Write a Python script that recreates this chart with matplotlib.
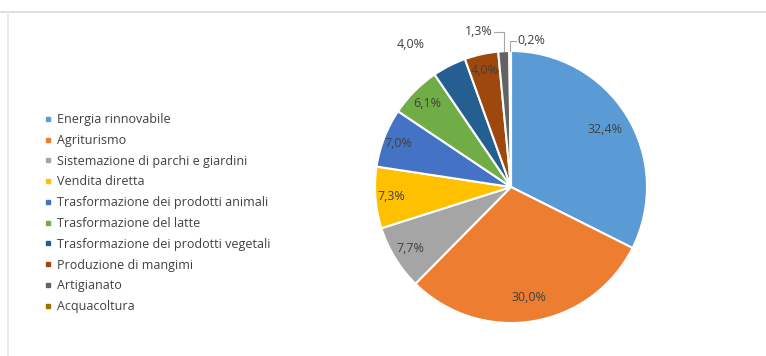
import matplotlib.pyplot as plt
from matplotlib.lines import Line2D
import numpy as np

categories = [
    "Energia rinnovabile",
    "Agriturismo",
    "Sistemazione di parchi e giardini",
    "Vendita diretta",
    "Trasformazione dei prodotti animali",
    "Trasformazione del latte",
    "Trasformazione dei prodotti vegetali",
    "Produzione di mangimi",
    "Artigianato",
    "Acquacoltura",
]
values = [32.4, 30.0, 7.7, 7.3, 7.0, 6.1, 4.0, 4.0, 1.3, 0.2]
colors = ["#5B9BD5", "#ED7D31", "#A5A5A5", "#FFC000", "#4472C4",
          "#70AD47", "#255E91", "#9E480E", "#636363", "#997300"]

plt.rcParams["font.family"] = ["Open Sans", "DejaVu Sans"]
txt_col = "#404040"
fs = 9

fig = plt.figure(figsize=(7.66, 3.56), dpi=100)

# faint chart border
fig.add_artist(Line2D([0.0, 1.0], [1 - 11.5 / 356] * 2, color="#d9d9d9", lw=1.2))
fig.add_artist(Line2D([7.5 / 766] * 2, [0, 1 - 11.5 / 356], color="#e6e6e6", lw=1.2))

cx, cy, r = 511, 187, 136
ax = fig.add_axes([(cx - r) / 766, (356 - cy - r) / 356, 2 * r / 766, 2 * r / 356])
wedges, _ = ax.pie(values, colors=colors, startangle=90, counterclock=False,
                   radius=1.0, wedgeprops=dict(edgecolor="white", linewidth=1.5))
ax.set_xlim(-1, 1)
ax.set_ylim(-1, 1)
ax.set_aspect("equal")
ax.axis("off")

# data labels: (distance, angle shift in degrees)
label_pos = [(0.81, 0), (0.82, 0), (0.87, 0), (0.885, 0), (0.89, 0),
             (0.87, 0), (1.28, 8), (0.88, 0), None, None]
for w, v, p in zip(wedges, values, label_pos):
    if p is None:
        continue
    d, shift = p
    ang = np.deg2rad((w.theta1 + w.theta2) / 2 + shift)
    ax.text(d * np.cos(ang), d * np.sin(ang), f"{v:.1f}%".replace(".", ","),
            ha="center", va="center", fontsize=fs, color=txt_col, clip_on=False)

# small slices with leader lines
for w, v, side in [(wedges[8], values[8], "left"), (wedges[9], values[9], "right")]:
    ang = np.deg2rad((w.theta1 + w.theta2) / 2)
    x0, y0 = np.cos(ang), np.sin(ang)
    if side == "left":
        ax.plot([x0, x0, x0 - 0.07], [y0, 1.14, 1.14], color="#a6a6a6", lw=0.8, clip_on=False)
        ax.text(x0 - 0.08, 1.145, f"{v:.1f}%".replace(".", ","), ha="right", va="center",
                fontsize=fs, color=txt_col)
    else:
        ax.plot([x0, x0, x0 + 0.04], [y0, 1.07, 1.07], color="#a6a6a6", lw=0.8, clip_on=False)
        ax.text(x0 + 0.05, 1.075, f"{v:.1f}%".replace(".", ","), ha="left", va="center",
                fontsize=fs, color=txt_col)

handles = [Line2D([], [], marker="s", color=c, linestyle="None", markersize=2.5)
           for c in colors]
leg = fig.legend(handles, categories, loc="upper left",
                 bbox_to_anchor=(34 / 766, 1 - 102 / 356), frameon=False,
                 fontsize=fs, labelspacing=0.62, handlelength=0.5, handletextpad=0.45,
                 labelcolor=txt_col)

fig.savefig("out.png", dpi=100)
